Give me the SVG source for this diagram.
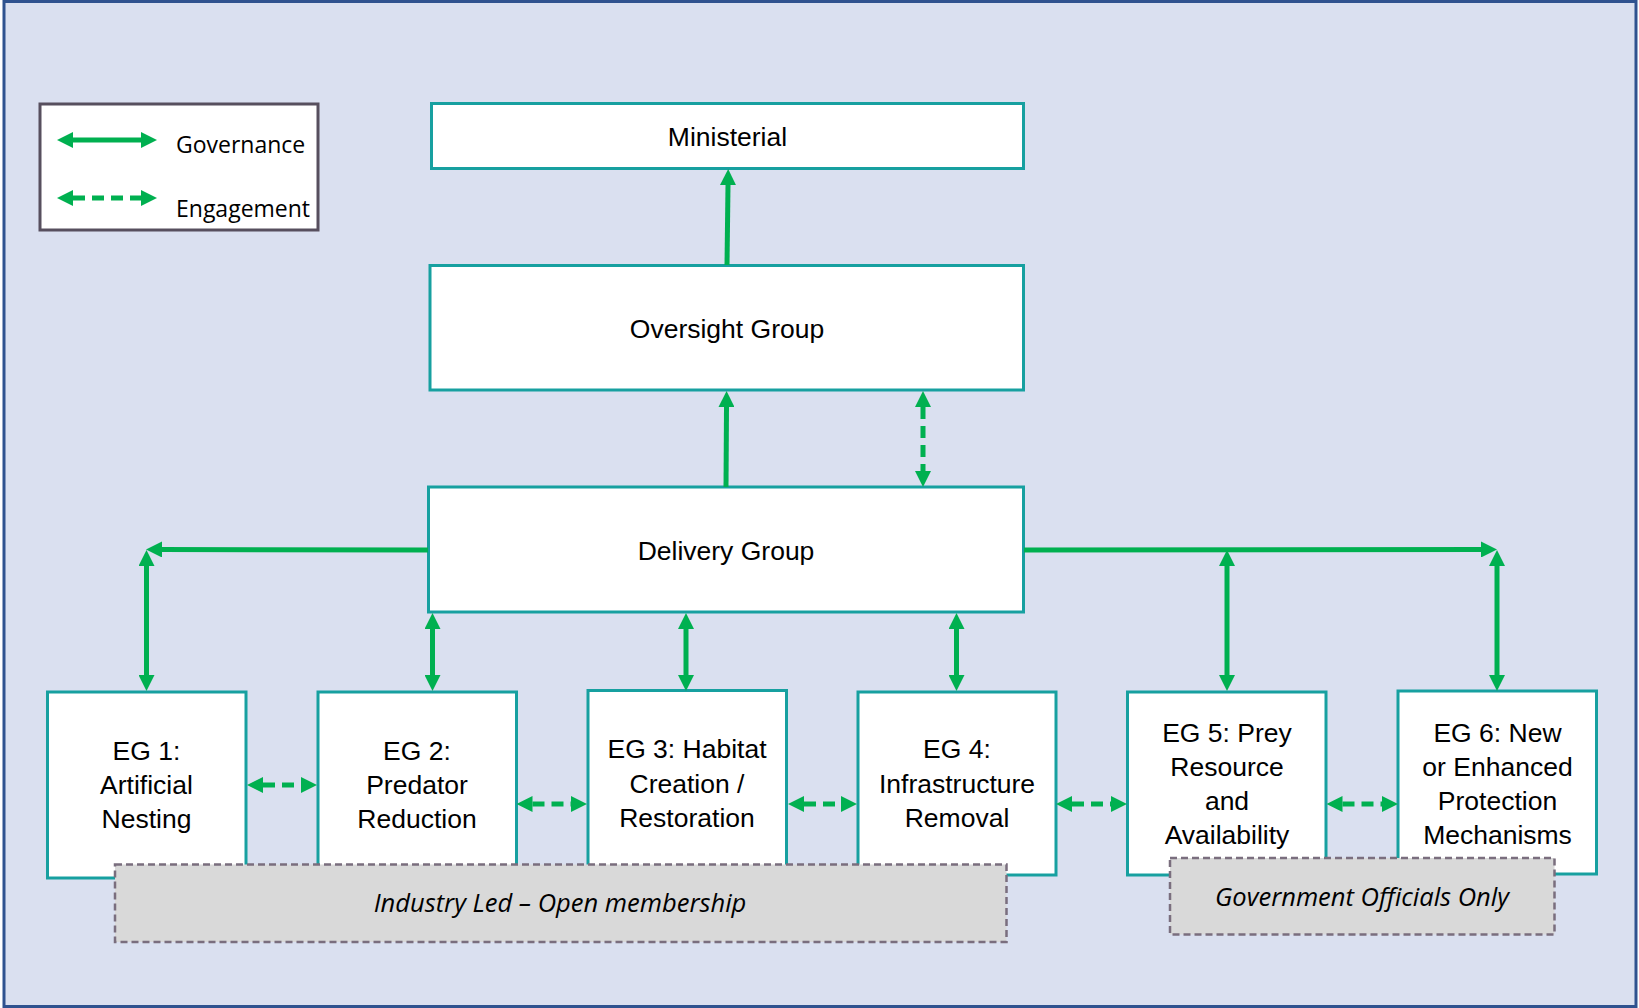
<svg xmlns="http://www.w3.org/2000/svg" width="1639" height="1008" viewBox="0 0 1639 1008">
<defs>
<style>
.bg{fill:#DAE0F0;stroke:#2F528F;stroke-width:3}
.node{fill:#FFFFFF;stroke:#17A0A0;stroke-width:3}
.grey{fill:#D9D9D9;stroke:#7A6E7E;stroke-width:2.5;stroke-dasharray:7 4}
.lbl{font-family:"Liberation Sans",Arial,sans-serif;font-size:26.5px;fill:#000;text-anchor:middle}
.cal{font-family:"Open Sans",sans-serif;font-size:23px;fill:#000}
.ital{font-style:italic;text-anchor:middle;font-size:25.5px}
.gov{stroke:#00B050;stroke-width:5;fill:none}
.eng{stroke:#00B050;stroke-width:5;fill:none;stroke-dasharray:12 7}
</style>
<marker id="ah" viewBox="0 0 16 16" refX="0" refY="8" markerWidth="16" markerHeight="16" markerUnits="userSpaceOnUse" orient="auto-start-reverse">
<path d="M0,0 L16,8 L0,16 z" fill="#00B050"/>
</marker>
</defs>
<rect class="bg" x="4" y="1.5" width="1632" height="1005"/>
<g id="legend">
<rect x="40" y="104" width="278" height="126" fill="#FFFFFF" stroke="#574F5E" stroke-width="3"/>
<line class="gov" x1="73" y1="140" x2="141" y2="140" marker-start="url(#ah)" marker-end="url(#ah)"/>
<line class="eng" x1="73" y1="198" x2="141" y2="198" marker-start="url(#ah)" marker-end="url(#ah)"/>
<text class="cal" x="176" y="153">Governance</text>
<text class="cal" x="176" y="217">Engagement</text>
</g>
<g id="ministerial">
<rect class="node" x="431.5" y="103.5" width="592" height="65"/>
<text class="lbl" x="727.5" y="146">Ministerial</text>
</g>
<g id="oversight">
<rect class="node" x="430" y="265.5" width="593.5" height="124.5"/>
<text class="lbl" x="727" y="338">Oversight Group</text>
</g>
<g id="delivery">
<rect class="node" x="428.5" y="487" width="595" height="125"/>
<text class="lbl" x="726" y="560">Delivery Group</text>
</g>
<g id="eg1">
<rect class="node" x="47.5" y="692" width="198.5" height="186"/>
<text class="lbl" x="146.5" y="760">EG 1:</text>
<text class="lbl" x="146.5" y="794">Artificial</text>
<text class="lbl" x="146.5" y="828">Nesting</text>
</g>
<g id="eg2">
<rect class="node" x="318" y="692" width="198.5" height="186"/>
<text class="lbl" x="417" y="760">EG 2:</text>
<text class="lbl" x="417" y="794">Predator</text>
<text class="lbl" x="417" y="828">Reduction</text>
</g>
<g id="eg3">
<rect class="node" x="588" y="690.5" width="198.5" height="186"/>
<text class="lbl" x="687" y="758">EG 3: Habitat</text>
<text class="lbl" x="687" y="792.5">Creation /</text>
<text class="lbl" x="687" y="827">Restoration</text>
</g>
<g id="eg4">
<rect class="node" x="858" y="692" width="198" height="183"/>
<text class="lbl" x="957" y="758">EG 4:</text>
<text class="lbl" x="957" y="792.5">Infrastructure</text>
<text class="lbl" x="957" y="827">Removal</text>
</g>
<g id="eg5">
<rect class="node" x="1127.5" y="692" width="198.5" height="183"/>
<text class="lbl" x="1227" y="741.5">EG 5: Prey</text>
<text class="lbl" x="1227" y="775.5">Resource</text>
<text class="lbl" x="1227" y="809.5">and</text>
<text class="lbl" x="1227" y="843.5">Availability</text>
</g>
<g id="eg6">
<rect class="node" x="1398" y="691" width="198.5" height="183"/>
<text class="lbl" x="1497.5" y="741.5">EG 6: New</text>
<text class="lbl" x="1497.5" y="775.5">or Enhanced</text>
<text class="lbl" x="1497.5" y="809.5">Protection</text>
<text class="lbl" x="1497.5" y="843.5">Mechanisms</text>
</g>
<g id="industry">
<rect class="grey" x="115" y="864.5" width="891.5" height="77.5"/>
<text class="cal ital" x="560" y="912">Industry Led – Open membership</text>
</g>
<g id="government">
<rect class="grey" x="1170" y="858" width="384.5" height="76.5"/>
<text class="cal ital" x="1362" y="906">Government Officials Only</text>
</g>
<g id="connectors">
<line class="gov" x1="727" y1="265" x2="728" y2="185" marker-end="url(#ah)"/>
<line class="gov" x1="726" y1="487" x2="726.5" y2="407" marker-end="url(#ah)"/>
<line class="eng" x1="923" y1="407" x2="923" y2="471" marker-start="url(#ah)" marker-end="url(#ah)"/>
<line class="gov" x1="428" y1="550" x2="162" y2="549.5" marker-end="url(#ah)"/>
<line class="gov" x1="146.5" y1="566" x2="146.5" y2="675" marker-start="url(#ah)" marker-end="url(#ah)"/>
<line class="gov" x1="432.5" y1="629" x2="432.5" y2="675" marker-start="url(#ah)" marker-end="url(#ah)"/>
<line class="gov" x1="686" y1="629" x2="686" y2="675" marker-start="url(#ah)" marker-end="url(#ah)"/>
<line class="gov" x1="956.5" y1="629" x2="956.5" y2="675" marker-start="url(#ah)" marker-end="url(#ah)"/>
<line class="gov" x1="1024" y1="550" x2="1481" y2="549.5" marker-end="url(#ah)"/>
<line class="gov" x1="1227" y1="566" x2="1227" y2="675" marker-start="url(#ah)" marker-end="url(#ah)"/>
<line class="gov" x1="1497" y1="566" x2="1497" y2="675" marker-start="url(#ah)" marker-end="url(#ah)"/>
<line class="eng" x1="263" y1="785" x2="301" y2="785" marker-start="url(#ah)" marker-end="url(#ah)"/>
<line class="eng" x1="532.5" y1="804" x2="571" y2="804" marker-start="url(#ah)" marker-end="url(#ah)"/>
<line class="eng" x1="804" y1="804" x2="841" y2="804" marker-start="url(#ah)" marker-end="url(#ah)"/>
<line class="eng" x1="1072" y1="804" x2="1111" y2="804" marker-start="url(#ah)" marker-end="url(#ah)"/>
<line class="eng" x1="1342.5" y1="804" x2="1382" y2="804" marker-start="url(#ah)" marker-end="url(#ah)"/>
</g>
</svg>
